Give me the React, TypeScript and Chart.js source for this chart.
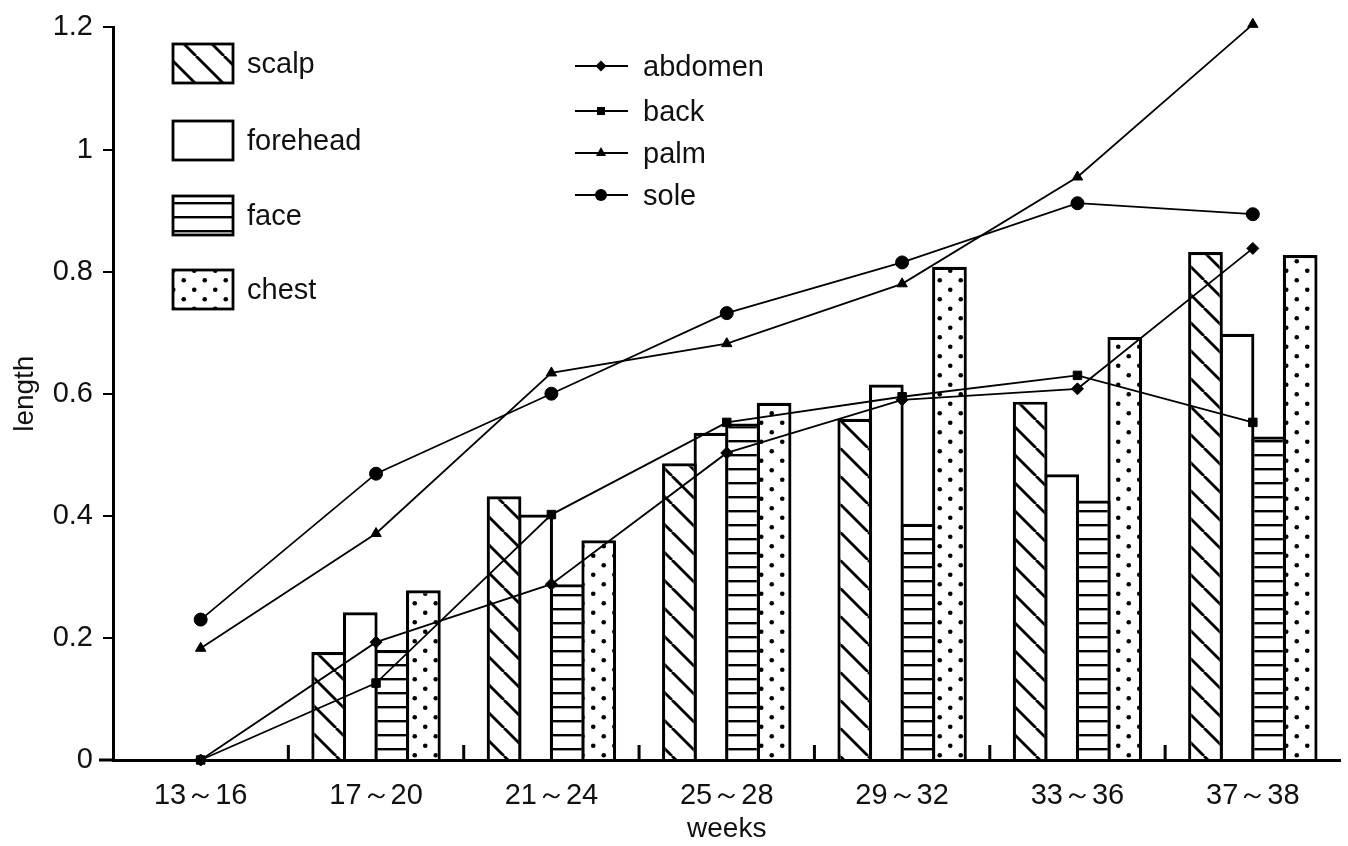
import React, { useEffect, useRef } from 'react';
import { Chart, registerables } from 'chart.js';

Chart.register(...registerables);

const categories = ['13～16', '17～20', '21～24', '25～28', '29～32', '33～36', '37～38'];
const scalp = [0, 0.177, 0.432, 0.486, 0.559, 0.587, 0.832];
const forehead = [0, 0.242, 0.402, 0.536, 0.615, 0.468, 0.698];
const face = [0, 0.18, 0.288, 0.551, 0.387, 0.425, 0.53];
const chest = [0, 0.278, 0.36, 0.585, 0.808, 0.693, 0.827];
const abdomen = [0, 0.193, 0.288, 0.503, 0.59, 0.608, 0.838];
const back = [0, 0.126, 0.402, 0.553, 0.595, 0.63, 0.553];
const palm = [0.183, 0.371, 0.634, 0.682, 0.78, 0.955, 1.205];
const sole = [0.23, 0.469, 0.6, 0.732, 0.815, 0.912, 0.894];
const yTickLabels = ['0', '0.2', '0.4', '0.6', '0.8', '1', '1.2'];

const SANS = "'Liberation Sans', Arial, sans-serif";
const INK = '#111';

function tile(w: number, h: number) {
  const c = document.createElement('canvas');
  c.width = w;
  c.height = h;
  const g = c.getContext('2d')!;
  g.fillStyle = '#fff';
  g.fillRect(0, 0, w, h);
  return { c, g };
}

function makePatterns(ctx: CanvasRenderingContext2D) {
  const d = tile(28, 28);
  d.g.strokeStyle = '#000';
  d.g.lineWidth = 2.8;
  for (const x0 of [-28, 0, 28]) {
    d.g.beginPath();
    d.g.moveTo(x0, 0);
    d.g.lineTo(x0 + 28, 28);
    d.g.stroke();
  }
  const h = tile(10, 14);
  h.g.fillStyle = '#000';
  h.g.fillRect(0, 6, 10, 2.4);
  const p = tile(21, 19);
  p.g.fillStyle = '#000';
  for (const [x, y] of [[5.25, 4.75], [15.75, 14.25]]) {
    p.g.beginPath();
    p.g.arc(x, y, 2.3, 0, Math.PI * 2);
    p.g.fill();
  }
  return {
    diag: ctx.createPattern(d.c, 'repeat')!,
    horiz: ctx.createPattern(h.c, 'repeat')!,
    dots: ctx.createPattern(p.c, 'repeat')!,
  };
}

export default function App() {
  const ref = useRef<HTMLCanvasElement | null>(null);

  useEffect(() => {
    const canvas = ref.current!;
    const ctx = canvas.getContext('2d')!;
    const pats = makePatterns(ctx);

    const barNames = ['scalp', 'forehead', 'face', 'chest'];
    const barData = [scalp, forehead, face, chest];
    const barFills: (string | CanvasPattern)[] = [pats.diag, '#fff', pats.horiz, pats.dots];

    const lineNames = ['abdomen', 'back', 'palm', 'sole'];
    const lineData = [abdomen, back, palm, sole];
    const lineStyles = ['rectRot', 'rect', 'triangle', 'circle'];
    const lineRadii = [6, 6, 6, 6.5];

    const lineSets = lineNames.map((n, i) => ({
      type: 'line' as const,
      label: n,
      data: lineData[i],
      borderColor: '#000',
      borderWidth: 1.8,
      backgroundColor: '#000',
      pointStyle: lineStyles[i],
      pointRadius: lineRadii[i],
      pointBackgroundColor: '#000',
      pointBorderColor: '#000',
      pointBorderWidth: 1,
      tension: 0,
      fill: false,
      clip: false,
      order: 0,
    }));

    const barSets = barNames.map((n, i) => ({
      type: 'bar' as const,
      label: n,
      data: barData[i],
      backgroundColor: barFills[i],
      borderColor: '#000',
      borderWidth: 3.2,
      borderSkipped: 'start',
      categoryPercentage: 0.72,
      barPercentage: 1.1,
      order: 1,
    }));

    const decor = {
      id: 'decor',
      afterDraw(chart: any) {
        const c = chart.ctx as CanvasRenderingContext2D;
        const xs = chart.scales.x;
        const area = chart.chartArea;
        c.save();
        c.strokeStyle = '#000';
        c.lineWidth = 3;
        for (let i = 0; i < categories.length - 1; i++) {
          const x = (xs.getPixelForValue(i) + xs.getPixelForValue(i + 1)) / 2;
          c.beginPath();
          c.moveTo(x, area.bottom);
          c.lineTo(x, area.bottom - 15);
          c.stroke();
        }
        // extend baseline slightly left of the y axis
        c.beginPath();
        c.moveTo(area.left - 14, area.bottom);
        c.lineTo(area.left, area.bottom);
        c.stroke();
        // bar legend
        const boxTops = [44, 121, 196, 270];
        c.font = `29px ${SANS}`;
        c.textBaseline = 'alphabetic';
        barNames.forEach((n, i) => {
          const t = boxTops[i];
          c.fillStyle = barFills[i] as any;
          c.fillRect(173, t, 60, 39);
          c.strokeStyle = '#000';
          c.lineWidth = 2.8;
          c.strokeRect(173, t, 60, 39);
          c.fillStyle = INK;
          c.fillText(n, 247, t + 29);
        });
        // line legend
        const rowY = [66, 111, 153, 195];
        lineNames.forEach((n, i) => {
          const y = rowY[i];
          c.strokeStyle = '#000';
          c.lineWidth = 2;
          c.beginPath();
          c.moveTo(575, y);
          c.lineTo(628, y);
          c.stroke();
          c.fillStyle = '#000';
          const r = lineStyles[i] === 'circle' ? 6 : 5.5;
          c.beginPath();
          if (lineStyles[i] === 'rectRot') {
            c.moveTo(601, y - r); c.lineTo(601 + r, y); c.lineTo(601, y + r); c.lineTo(601 - r, y); c.closePath();
          } else if (lineStyles[i] === 'rect') {
            c.rect(601 - 4, y - 4, 8, 8);
          } else if (lineStyles[i] === 'triangle') {
            c.moveTo(601, y - 6); c.lineTo(606, y + 3); c.lineTo(596, y + 3); c.closePath();
          } else {
            c.arc(601, y, r, 0, Math.PI * 2);
          }
          c.fill();
          c.fillStyle = INK;
          c.fillText(n, 643, y + 10);
        });
        c.restore();
      },
    };

    const chart = new Chart(canvas, {
      type: 'bar',
      data: { labels: categories, datasets: [...lineSets, ...barSets] as any },
      options: {
        animation: false,
        responsive: true,
        maintainAspectRatio: false,
        layout: { padding: { top: 26, right: 2, left: 0, bottom: 0 } },
        plugins: { legend: { display: false }, tooltip: { enabled: false } },
        scales: {
          x: {
            type: 'category',
            offset: true,
            grid: { display: false },
            border: { display: true, color: '#000', width: 3 },
            ticks: {
              color: INK,
              font: { family: SANS, size: 29 },
              padding: 11,
              maxRotation: 0,
              autoSkip: false,
            },
            title: {
              display: true,
              text: 'weeks',
              color: INK,
              font: { family: SANS, size: 28 },
              padding: { top: 0, bottom: 0 },
            },
            afterFit: (s: any) => { s.height = 86; },
          },
          y: {
            min: 0,
            max: 1.2,
            ticks: {
              stepSize: 0.2,
              color: INK,
              font: { family: SANS, size: 29 },
              padding: 10,
              callback: (v: any, i: number) => yTickLabels[i] ?? String(v),
            },
            grid: { display: true, drawOnChartArea: false, drawTicks: true, tickLength: 10, color: '#000', lineWidth: 2 },
            border: { display: true, color: '#000', width: 3 },
            title: {
              display: true,
              text: 'length',
              color: INK,
              font: { family: SANS, size: 28 },
              padding: { top: 8, bottom: 0 },
            },
            afterFit: (s: any) => { s.width = 113; },
          },
        },
      } as any,
      plugins: [decor],
    });
    return () => chart.destroy();
  }, []);

  return (
    <div style={{ position: 'absolute', left: 0, top: 0, width: 1348, height: 846, background: '#fff' }}>
      <canvas ref={ref} />
    </div>
  );
}
